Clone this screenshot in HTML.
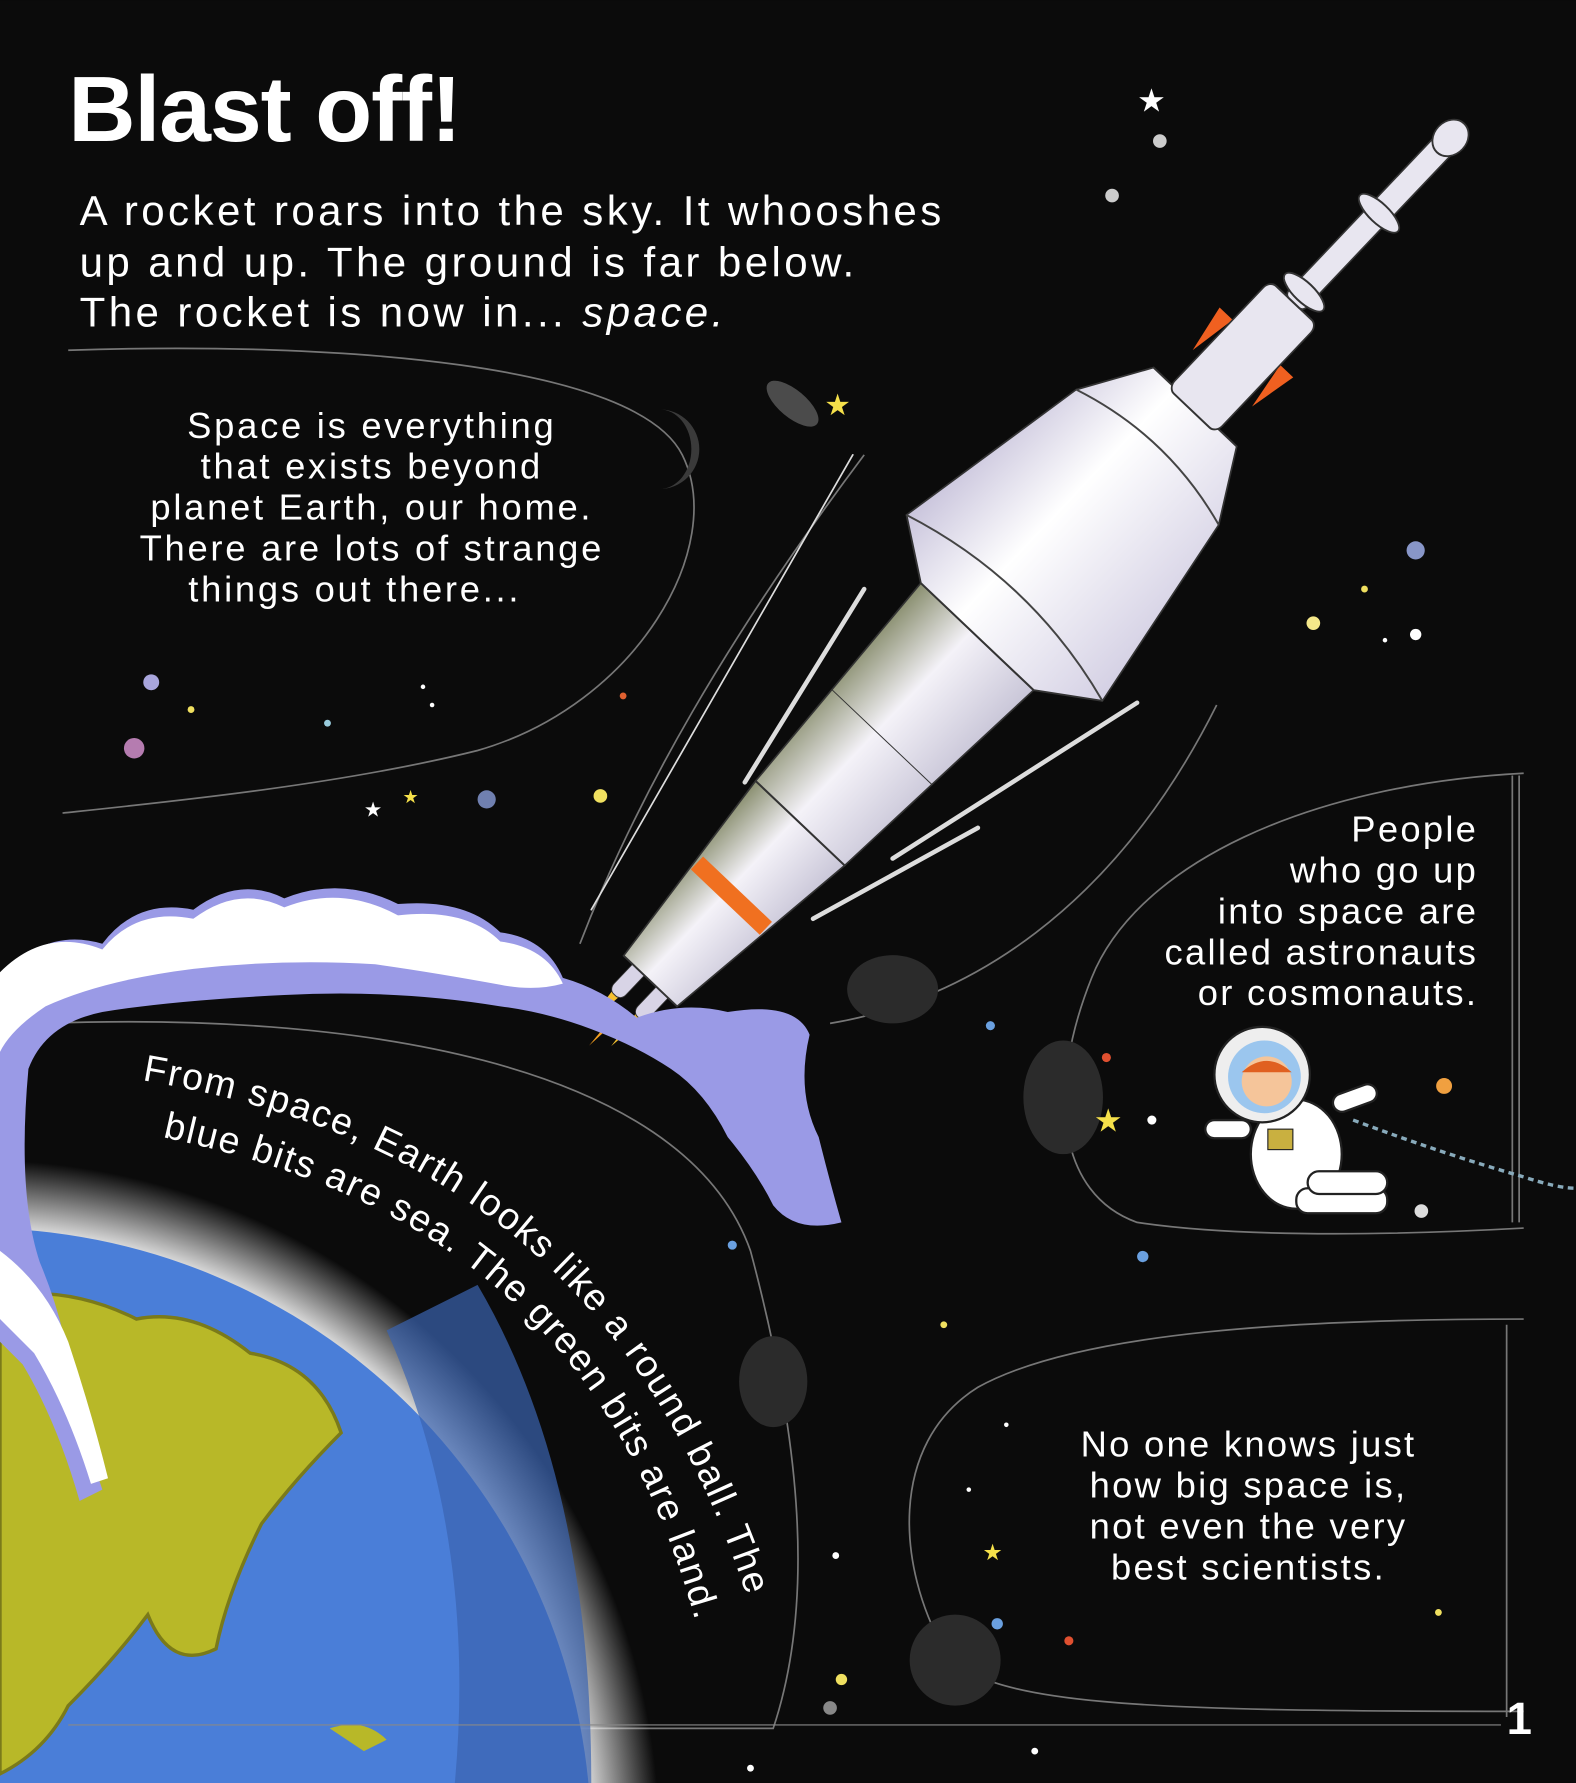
<!DOCTYPE html>
<html><head><meta charset="utf-8">
<style>
html,body{margin:0;padding:0;background:#0b0b0b;width:1576px;height:1783px;overflow:hidden;}
svg{display:block;}
text{font-family:"Liberation Sans",sans-serif;fill:#fff;}
</style></head>
<body>
<svg width="1576" height="1783" viewBox="0 0 1386 1568" xmlns="http://www.w3.org/2000/svg">
<defs>
<radialGradient id="glow" cx="0.5" cy="0.5" r="0.5">
<stop offset="0.88" stop-color="#fff" stop-opacity="1"/>
<stop offset="1" stop-color="#fff" stop-opacity="0"/>
</radialGradient>
<linearGradient id="body" x1="0" y1="0" x2="0" y2="1">
<stop offset="0" stop-color="#8a8f70"/><stop offset="0.45" stop-color="#f4f2f8"/><stop offset="1" stop-color="#c9c6d8"/>
</linearGradient>
<linearGradient id="nose" x1="0" y1="0" x2="0" y2="1">
<stop offset="0" stop-color="#c9c4dc"/><stop offset="0.4" stop-color="#ffffff"/><stop offset="1" stop-color="#d4d0e4"/>
</linearGradient>
<path id="arc1" d="M125,950 C330,985 560,1080 665,1430"/>
<path id="arc2" d="M143,1000 C330,1040 540,1130 618,1450"/>
<clipPath id="pg"><rect width="1386" height="1568"/></clipPath>
</defs>
<g clip-path="url(#pg)">
<rect width="1386" height="1568" fill="#0b0b0b"/>

<g fill="none" stroke="#777" stroke-width="1.5">
<path d="M60,308 C300,300 560,320 600,400 C640,480 560,620 420,660 C300,690 150,705 55,715"/>
<path d="M510,830 C560,700 640,560 760,400"/>
<path d="M40,900 C300,890 600,930 660,1100 C700,1250 720,1400 680,1520 L60,1520"/>
<path d="M730,900 C850,880 980,800 1070,620"/>
<path d="M1340,680 C1150,690 1000,760 960,860 C920,960 930,1050 1000,1075 C1100,1090 1250,1085 1340,1080"/>
<path d="M1340,1160 C1150,1160 950,1170 860,1220 C780,1270 790,1380 830,1450 C860,1500 1000,1505 1340,1505"/>
<path d="M1330,682 L1330,1075 M1336,682 L1336,1075"/>
<path d="M1325,1165 L1325,1510"/>
</g>
<g fill="#2b2b2b">
<path d="M580,360 a35,35 0 0 1 0,70 a28,35 0 0 0 0,-70z" fill="#3a3a3a"/>
<ellipse cx="785" cy="870" rx="40" ry="30"/>
<ellipse cx="935" cy="965" rx="35" ry="50"/>
<ellipse cx="680" cy="1215" rx="30" ry="40"/>
<ellipse cx="840" cy="1460" rx="40" ry="40"/>
</g>

<g fill="#fff">
<circle cx="1020" cy="124" r="6" fill="#ccc"/><circle cx="978" cy="172" r="6" fill="#ccc"/>
<circle cx="1245" cy="558" r="5"/><circle cx="1218" cy="563" r="2"/><circle cx="1155" cy="548" r="6" fill="#f5e88a"/>
<circle cx="1245" cy="484" r="8" fill="#8896c8"/><circle cx="1200" cy="518" r="3" fill="#f0e060"/>
<circle cx="133" cy="600" r="7" fill="#a9a6dd"/><circle cx="168" cy="624" r="3" fill="#f0e060"/><circle cx="118" cy="658" r="9" fill="#b57cb0"/>
<circle cx="288" cy="636" r="3" fill="#9cd"/><circle cx="372" cy="604" r="2"/><circle cx="380" cy="620" r="2"/>
<circle cx="548" cy="612" r="3" fill="#e06030"/><circle cx="528" cy="700" r="6" fill="#f0e060"/><circle cx="428" cy="703" r="8" fill="#7080b0"/>
<circle cx="871" cy="902" r="4" fill="#6aa0e0"/><circle cx="973" cy="930" r="4" fill="#e05030"/><circle cx="1013" cy="985" r="4"/>
<circle cx="1270" cy="955" r="7" fill="#f0a040"/><circle cx="1250" cy="1065" r="6" fill="#ddd"/>
<circle cx="1005" cy="1105" r="5" fill="#6aa0e0"/><circle cx="830" cy="1165" r="3" fill="#f0e060"/><circle cx="644" cy="1095" r="4" fill="#6aa0e0"/>
<circle cx="877" cy="1428" r="5" fill="#6aa0e0"/><circle cx="940" cy="1443" r="4" fill="#e05030"/><circle cx="1265" cy="1418" r="3" fill="#f0e060"/>
<circle cx="740" cy="1477" r="5" fill="#f0e060"/><circle cx="730" cy="1502" r="6" fill="#888"/><circle cx="735" cy="1368" r="3"/>
<circle cx="885" cy="1253" r="2"/><circle cx="852" cy="1310" r="2"/><circle cx="910" cy="1540" r="3"/><circle cx="660" cy="1555" r="3"/>
<text x="1000" y="98" font-size="28">★</text>
<text x="725" y="365" font-size="26" style="fill:#f5e04a">★</text>
<text x="320" y="718" font-size="18">★</text><text x="354" y="706" font-size="16" style="fill:#f5e04a">★</text>
<text x="962" y="995" font-size="28" style="fill:#f5e04a">★</text>
<text x="864" y="1372" font-size="20" style="fill:#f5e04a">★</text>
</g>
<ellipse cx="697" cy="355" rx="28" ry="12" fill="#777" opacity="0.6" transform="rotate(40 697 355)"/>

<g stroke="#ddd" stroke-width="4" stroke-linecap="round">
<line x1="655" y1="688" x2="760" y2="518"/>
<line x1="785" y1="755" x2="1000" y2="618"/>
<line x1="715" y1="808" x2="860" y2="728"/>
<line x1="520" y1="800" x2="750" y2="400" stroke-width="1.5"/>
</g>

<g transform="translate(548,888) rotate(-46.5) scale(0.87,0.72)">
<path d="M-5,-4 L-50,0 L-5,4z" fill="#f5a020"/>
<path d="M10,-26 L-35,-20 L10,-14z" fill="#f5c030"/>
<path d="M10,14 L-35,20 L10,26z" fill="#f5c030"/>
<rect x="5" y="-30" width="150" height="20" rx="8" fill="#d8d4e6" stroke="#333"/>
<rect x="5" y="10" width="150" height="20" rx="8" fill="#d8d4e6" stroke="#333"/>
<path d="M40,-45 L260,-75 L260,75 L40,45z" fill="url(#body)" stroke="#333" stroke-width="2"/>
<rect x="150" y="-58" width="18" height="116" fill="#f07020"/>
<path d="M260,-75 L520,-95 L520,95 L260,75z" fill="url(#body)" stroke="#333" stroke-width="2"/>
<line x1="380" y1="-85" x2="380" y2="85" stroke="#333"/>
<path d="M520,-95 L560,-165 L770,-120 L840,-70 L840,70 L770,120 L560,165 L520,95z" fill="url(#nose)" stroke="#333" stroke-width="2"/>
<path d="M560,-165 Q600,0 560,165" fill="none" stroke="#444" stroke-width="2"/>
<path d="M770,-120 Q800,0 770,120" fill="none" stroke="#444" stroke-width="2"/>
<path d="M880,-50 L930,-62 L930,-40z M880,50 L930,62 L930,40z" fill="#f06020"/>
<rect x="835" y="-40" width="150" height="80" rx="10" fill="#e8e6f0" stroke="#333" stroke-width="2"/>
<rect x="985" y="-15" width="230" height="30" rx="6" fill="#e8e6f0" stroke="#333" stroke-width="2"/>
<ellipse cx="1000" cy="0" rx="10" ry="32" fill="#e8e6f0" stroke="#333" stroke-width="2"/>
<ellipse cx="1110" cy="0" rx="10" ry="32" fill="#e8e6f0" stroke="#333" stroke-width="2"/>
<circle cx="1215" cy="0" r="20" fill="#e8e6f0" stroke="#333" stroke-width="2"/>
</g>

<circle cx="-20" cy="1620" r="600" fill="url(#glow)"/>
<circle cx="-20" cy="1620" r="540" fill="#4a7ed8"/>
<path d="M340,1170 Q420,1350 400,1568 L520,1568 Q520,1300 420,1130z" fill="#3a64b0" opacity="0.7"/>
<path d="M0,1140 Q60,1130 120,1160 Q170,1150 220,1190 Q280,1200 300,1260 Q260,1300 230,1340 Q200,1400 190,1450 Q150,1470 130,1420 Q100,1460 60,1500 Q40,1540 0,1560z" fill="#b8b828" stroke="#7a7a1a" stroke-width="3"/>
<path d="M290,1520 Q320,1510 340,1530 L320,1540z" fill="#b8b828"/>

<path d="M0,860 Q40,815 90,830 Q120,790 170,800 Q210,770 250,790 Q300,770 350,795 Q410,790 440,820 Q480,825 495,860 Q530,870 560,895 Q600,880 640,890 Q700,880 712,910 Q700,960 720,1000 Q730,1040 740,1075 Q700,1085 680,1060 Q665,1030 640,1000 Q620,960 590,940 Q560,920 520,905 Q480,890 440,885 Q350,870 250,875 Q150,880 90,890 Q40,900 25,940 Q15,1050 35,1110 Q60,1170 65,1230 Q80,1280 90,1310 L70,1320 Q50,1250 20,1200 L0,1180z" fill="#9a9ae6"/>
<path d="M0,855 Q40,815 90,835 Q120,798 170,808 Q210,778 250,798 Q300,778 350,805 Q410,798 440,828 Q480,833 495,865 Q470,872 440,866 Q380,855 330,848 Q250,843 170,852 Q90,862 40,885 Q10,905 0,925z" fill="#fff"/>
<path d="M0,1100 Q40,1130 60,1180 Q80,1240 95,1300 L80,1305 Q60,1240 30,1190 L0,1160z" fill="#fff"/>

<g transform="translate(1110,935)">
<path d="M80,50 Q160,80 230,100 Q260,110 276,110" fill="none" stroke="#8ab" stroke-width="3" stroke-dasharray="5,4"/>
<ellipse cx="30" cy="80" rx="40" ry="48" fill="#fff" stroke="#222" stroke-width="2"/>
<rect x="-50" y="50" width="40" height="16" rx="8" fill="#fff" stroke="#222" stroke-width="2"/>
<rect x="60" y="30" width="40" height="16" rx="8" fill="#fff" stroke="#222" stroke-width="2" transform="rotate(-20 60 30)"/>
<rect x="30" y="110" width="80" height="22" rx="10" fill="#fff" stroke="#222" stroke-width="2"/>
<rect x="40" y="95" width="70" height="20" rx="10" fill="#fff" stroke="#222" stroke-width="2"/>
<rect x="5" y="58" width="22" height="18" fill="#c9b040" stroke="#222"/>
<circle cx="0" cy="10" r="42" fill="#eee" stroke="#222" stroke-width="2"/>
<circle cx="2" cy="12" r="32" fill="#9bc6ee"/>
<circle cx="4" cy="16" r="22" fill="#f5c59a"/>
<path d="M-18,8 Q4,-12 26,8" fill="#e06020"/>
</g>

<text x="60" y="124" font-size="82" font-weight="bold" letter-spacing="-1">Blast off!</text>
<g font-size="37" letter-spacing="3">
<text x="70" y="198">A rocket roars into the sky. It whooshes</text>
<text x="70" y="243">up and up. The ground is far below.</text>
<text x="70" y="287">The rocket is now in... <tspan font-style="italic">space.</tspan></text>
</g>
<g font-size="32" text-anchor="middle" letter-spacing="2.4">
<text x="327" y="385">Space is everything</text>
<text x="327" y="421">that exists beyond</text>
<text x="327" y="457">planet Earth, our home.</text>
<text x="327" y="493">There are lots of strange</text>
<text x="312" y="529">things out there...</text>
</g>
<g font-size="32" text-anchor="end" letter-spacing="2">
<text x="1300" y="740">People</text>
<text x="1300" y="776">who go up</text>
<text x="1300" y="812">into space are</text>
<text x="1300" y="848">called astronauts</text>
<text x="1300" y="884">or cosmonauts.</text>
</g>
<g font-size="32" text-anchor="middle" letter-spacing="2">
<text x="1098" y="1281">No one knows just</text>
<text x="1098" y="1317">how big space is,</text>
<text x="1098" y="1353">not even the very</text>
<text x="1098" y="1389">best scientists.</text>
</g>
<text font-size="33" letter-spacing="1.5"><textPath href="#arc1">From space, Earth looks like a round ball. The</textPath></text>
<text font-size="33" letter-spacing="1.5"><textPath href="#arc2">blue bits are sea. The green bits are land.</textPath></text>
<line x1="60" y1="1517" x2="1320" y2="1517" stroke="#888" stroke-width="1"/>
<text x="1325" y="1525" font-size="40" font-weight="bold">1</text>
</g>
</svg>
</body></html>
